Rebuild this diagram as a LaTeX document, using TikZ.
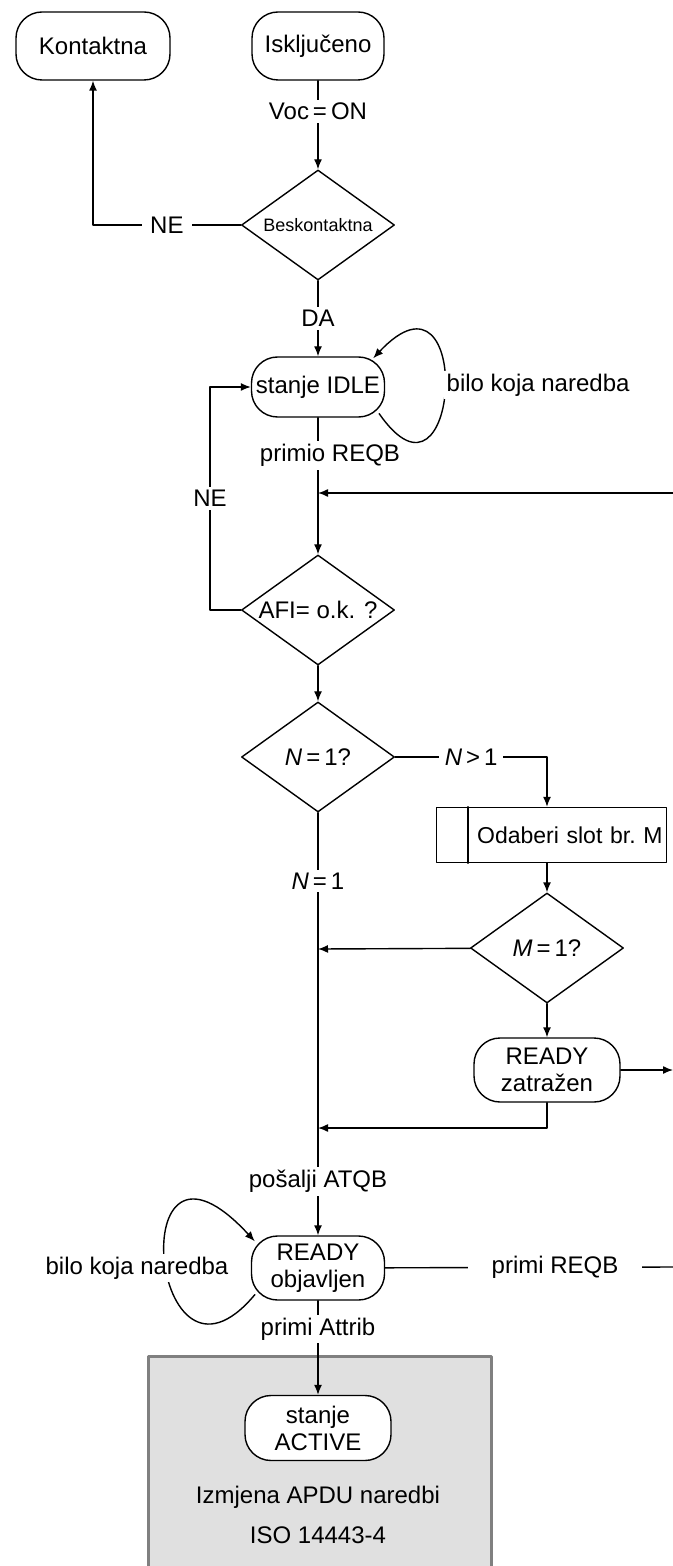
\documentclass[tikz,border=0pt]{standalone}
\usepackage{fontspec}
\setmainfont{Liberation Sans}
\usetikzlibrary{shapes.geometric,arrows.meta}
\tikzset{
  stanje/.style={draw,fill=white,rounded corners=13pt,align=center,minimum width=66.5pt,minimum height=32pt,inner sep=1pt},
  odluka/.style={draw,fill=white,diamond,aspect=1.4,minimum width=76.5pt,minimum height=55pt,inner sep=0pt},
  natpis/.style={fill=white,inner sep=1.5pt},
}
\begin{document}
\begin{tikzpicture}[x=0.5pt,y=-0.5pt,line cap=round,line join=round,line width=0.7pt,>={Latex[length=5pt,width=4pt]},font=\fontsize{12}{13.5}\selectfont]
  \useasboundingbox (0,0) rectangle (673,1566);
  \clip (0,0) rectangle (673,1566);
  % siva zona ISO 14443-4
  \node[draw=black!50,fill=black!12,line width=1.5pt,minimum width=171.5pt,minimum height=124pt,inner sep=0pt] (zona) at (319.5,1480) {};
  \node[stanje,minimum width=77pt,minimum height=34pt] (kontakt) at (93,46) {Kontaktna};
  \node[stanje,minimum width=66pt,minimum height=34pt] (iskljuc) at (318,46) {Isključeno};
  \node[odluka,font=\fontsize{9}{10}\selectfont] (besk) at (318,225) {Beskontaktna};
  \node[stanje,minimum height=30pt] (idle) at (318,387) {stanje IDLE};
  \node[odluka] (afi) at (318,610) {AFI= o.k. ?};
  \node[odluka] (nq) at (318,757) {\textit{N}\,=\,1?};
  \node[draw,text width=111pt,align=right,minimum height=27.5pt,inner xsep=2pt,font=\fontsize{11.5}{13}\selectfont] (odaberi) at (551.5,835) {Odaberi slot br.\ M};
  \node[odluka] (mq) at (547,948) {\textit{M}\,=\,1?};
  \node[stanje,minimum width=73pt] (rzatr) at (547,1070) {READY\\zatražen};
  \node[stanje] (robj) at (318,1268) {READY\\objavljen};
  \node[stanje,minimum width=73pt,minimum height=32.5pt] (aktiv) at (318,1428) {stanje\\ACTIVE};
  \node (izmj) at (318,1497) {Izmjena APDU naredbi};
  \node (iso) at (318,1535) {ISO 14443-4};
  \coordinate (j1) at (318,493);
  \coordinate (j2) at (318,949);
  \coordinate (j3) at (318,1128);
  \coordinate (lijevo) at (210,0);
  \coordinate (desno1) at (673,493);
  \coordinate (desno2) at (673,1070);
  \coordinate (desno3) at (673,1267);
  % veze
  \draw[->] (iskljuc) -- node[natpis,pos=0.35] {Voc\,=\,ON} (besk);
  \draw[->] (besk.west) -- node[natpis,inner xsep=4pt] {NE} (besk.west -| kontakt) -- (kontakt);
  \draw[->] (besk) -- node[natpis] {DA} (idle);
  \draw[->] ([shift={(-3pt,2pt)}]idle.south east) .. controls (460,530) and (475,250) .. ([shift={(-6pt,-1pt)}]idle.north east);
  \node[natpis,anchor=west] (bilo1) at (443,385) {bilo koja naredba};
  \draw (idle) -- node[natpis,xshift=6pt] {primio REQB} (j1);
  \draw[->] (j1) -- (afi);
  \draw[->] (desno1) -- (j1);
  \draw[->] (afi.west) -- (afi.west -| lijevo) -- node[natpis] {NE} (idle.west -| lijevo) -- (idle.west);
  \draw[->] (afi) -- (nq);
  \draw[->] (nq.east) -| node[natpis,pos=0.25,inner xsep=3pt] {\textit{N}\,>\,1} (odaberi.north -| mq);
  \draw ([xshift=16pt]odaberi.north west) -- ([xshift=16pt]odaberi.south west);
  \draw[->] (odaberi.south -| mq) -- (mq);
  \draw[->] (mq) -- (j2);
  \draw[->] (mq) -- (rzatr);
  \draw[->] (rzatr) -- (desno2);
  \draw[->] (rzatr.south) |- (j3);
  \draw (nq) -- node[natpis] {\textit{N}\,=\,1} (j2) -- (j3);
  \draw[->] (j3) -- node[natpis] {pošalji ATQB} (robj);
  \draw (robj) -- node[natpis,pos=0.59,inner xsep=12pt] {primi REQB} (desno3);
  \draw[->] ([shift={(2pt,3pt)}]robj.south west) .. controls (150,1420) and (120,1095) .. ([shift={(2pt,-3pt)}]robj.north west);
  \node[natpis] (bilo2) at (137,1268) {bilo koja naredba};
  \draw[->] (robj) -- node[natpis,pos=0.3] {primi Attrib} (aktiv);
\end{tikzpicture}
\end{document}
